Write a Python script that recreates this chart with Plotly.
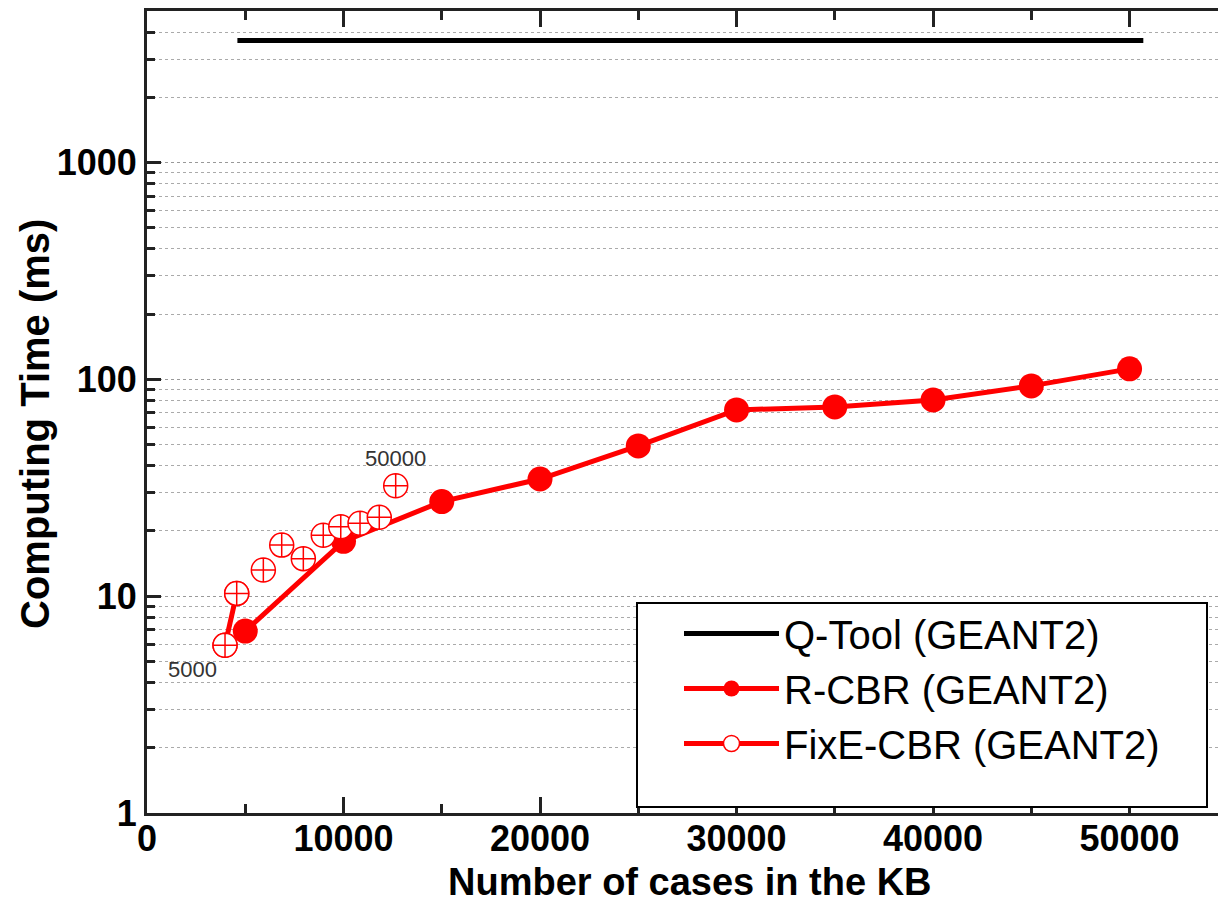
import plotly.graph_objects as go
import math

# ---- data ----
qtool_x = [4600, 50700]
qtool_y = [3660, 3660]

rcbr_x = [5000, 10000, 15000, 20000, 25000, 30000, 35000, 40000, 45000, 50000]
rcbr_y = [6.9, 17.9, 27.3, 34.7, 49.3, 72.3, 74.6, 80.4, 93.3, 111.8]

fixe_x = [3970, 4565, 5920, 6855, 7955, 8970, 9860, 10840, 11820, 12655]
fixe_y = [5.94, 10.3, 13.2, 17.2, 14.9, 19.1, 20.9, 21.7, 23.1, 32.3]

fixe_labels = ["5000", "50000"]

x_ticks = [0, 10000, 20000, 30000, 40000, 50000]
x_ticktext = ["0", "10000", "20000", "30000", "40000", "50000"]
y_ticks = [1, 10, 100, 1000]
y_ticktext = ["1", "10", "100", "1000"]

x_title = "Number of cases in the KB"
y_title = "Computing Time (ms)"

RED = "#ff0000"
FONT = "Liberation Sans, Arial, sans-serif"

# plot-area geometry in pixels (for paper-coordinate placement)
L, T, B, W, H = 147, 11, 95, 1218, 908
PW, PH = W - L, H - T - B


def px(xp):
    return (xp - L) / PW


def py(yp):
    return (H - B - yp) / PH


fig = go.Figure()

fig.add_trace(go.Scatter(
    x=qtool_x, y=qtool_y, mode="lines", name="Q-Tool (GEANT2)",
    line=dict(color="black", width=5)))

fig.add_trace(go.Scatter(
    x=rcbr_x, y=rcbr_y, mode="lines+markers", name="R-CBR (GEANT2)",
    line=dict(color=RED, width=5),
    marker=dict(symbol="circle", size=25, color=RED)))

fig.add_trace(go.Scatter(
    x=fixe_x[:2], y=fixe_y[:2], mode="lines+markers", name="FixE-CBR (GEANT2)",
    line=dict(color=RED, width=5),
    marker=dict(symbol="circle", size=24, color="white",
                line=dict(color=RED, width=1.5))))

fig.add_trace(go.Scatter(
    x=fixe_x, y=fixe_y, mode="markers", name="FixE-CBR (GEANT2)", showlegend=False,
    marker=dict(symbol="circle-cross", size=24, color="white",
                line=dict(color=RED, width=1.5))))

fig.add_annotation(x=fixe_x[0], y=math.log10(fixe_y[0]), text=fixe_labels[0],
                   showarrow=False, xshift=-33, yshift=-24,
                   font=dict(family=FONT, size=22, color="#333"))
fig.add_annotation(x=fixe_x[-1], y=math.log10(fixe_y[-1]), text=fixe_labels[1],
                   showarrow=False, xshift=0, yshift=27,
                   font=dict(family=FONT, size=22, color="#333"))

# axis titles
fig.add_annotation(xref="paper", yref="paper", x=px(690), y=py(882),
                   xanchor="center", yanchor="middle", showarrow=False,
                   text=x_title,
                   font=dict(family=FONT, size=38, weight="bold", color="black"))
fig.add_annotation(xref="paper", yref="paper", x=px(35), y=py(424),
                   xanchor="center", yanchor="middle", showarrow=False,
                   textangle=-90, text=y_title,
                   font=dict(family=FONT, size=40, weight="bold", color="black"))

# legend frame
fig.add_shape(type="rect", xref="paper", yref="paper",
              x0=px(637), x1=px(1207), y0=py(807), y1=py(603),
              line=dict(color="black", width=2), fillcolor="white", layer="above")

minor_y = [m * 10 ** e for e in range(0, 4) for m in range(2, 10)]

fig.update_layout(
    width=W, height=H,
    margin=dict(l=L, r=0, t=T, b=B, autoexpand=False),
    paper_bgcolor="white", plot_bgcolor="white",
    font=dict(family=FONT, color="black"),
    showlegend=True,
    legend=dict(
        x=px(679), y=py(601), xanchor="left", yanchor="top",
        bgcolor="rgba(0,0,0,0)", borderwidth=0,
        font=dict(family=FONT, size=40, color="black"),
        itemwidth=95, tracegroupgap=0,
    ),
    xaxis=dict(
        range=[0, 54500], tickvals=x_ticks, ticktext=x_ticktext,
        showline=True, linewidth=3, linecolor="#222", mirror="ticks",
        ticks="inside", ticklen=16, tickwidth=3, tickcolor="#222",
        minor=dict(dtick=5000, tick0=0, ticks="inside", ticklen=9, tickwidth=3,
                   tickcolor="#222", showgrid=False),
        showgrid=False, zeroline=False, automargin=False,
        ticklabelstandoff=-8,
        tickfont=dict(family=FONT, size=36, weight="bold", color="black"),
    ),
    yaxis=dict(
        type="log", range=[0, math.log10(5000)],
        tickvals=y_ticks, ticktext=y_ticktext,
        showline=True, linewidth=3, linecolor="#222",
        ticks="inside", ticklen=14, tickwidth=3, tickcolor="#222",
        showgrid=True, gridcolor="#999", griddash="dot", gridwidth=1.2,
        minor=dict(tickvals=minor_y, ticks="inside", ticklen=8, tickwidth=2.5,
                   tickcolor="#222", showgrid=True, gridcolor="#aaa",
                   griddash="dot", gridwidth=1.2),
        zeroline=False, automargin=False,
        tickfont=dict(family=FONT, size=36, weight="bold", color="black"),
    ),
)

fig.write_html("out.html")
